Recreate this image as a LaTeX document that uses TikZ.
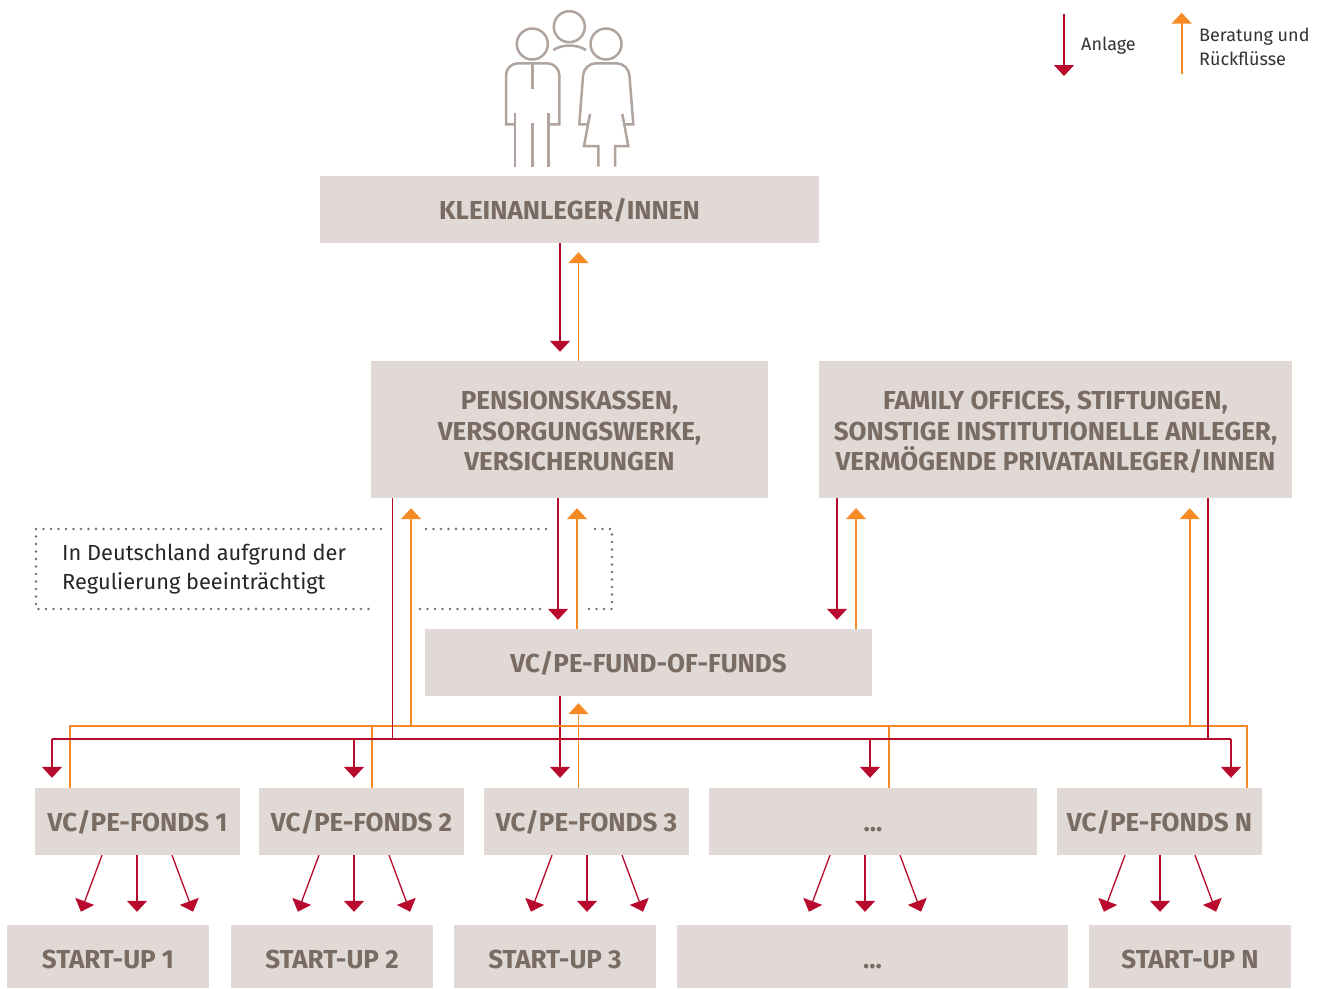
\documentclass[tikz,border=0pt]{standalone}
\usepackage{fontspec}
\setmainfont{Fira Sans}
\usetikzlibrary{arrows.meta}
\definecolor{boxfill}{HTML}{E0D9D6}
\definecolor{boxtext}{HTML}{7A6C62}
\definecolor{anlagered}{HTML}{B70A2D}
\definecolor{rueckorange}{HTML}{F68A24}
\definecolor{iconline}{HTML}{B0A49E}
\tikzset{
  tafel/.style={fill=boxfill,text=boxtext,font=\fontsize{26}{30.5}\selectfont\bfseries,inner sep=0pt,align=center},
  tafelone/.style={tafel,text height=19pt,text depth=0pt},
  startup/.style={tafel,text height=23pt,text depth=0pt,minimum height=63pt},
  anlage/.style={draw=anlagered,line width=1.3pt,-{Triangle[width=20pt,length=11pt]}},
  rueck/.style={draw=rueckorange,line width=1.7pt,-{Triangle[width=20pt,length=11pt]}},
  anlageline/.style={draw=anlagered,line width=1.3pt},
  rueckline/.style={draw=rueckorange,line width=1.7pt},
  icon/.style={draw=iconline,line width=2.5pt,rounded corners=12pt},
  dots/.style={draw=boxtext,line width=2.8pt,line cap=round,dash pattern=on 0pt off 7.5pt},
  legendtext/.style={font=\fontsize{18}{24}\selectfont,text=black!80,align=left,inner sep=0pt}
}
\begin{document}
\begin{tikzpicture}[x=1pt,y=-1pt]
  \useasboundingbox (0,0) rectangle (1327,988);
  % investors icon
  \draw[icon] (569.3,26.7) circle (15.5);
  \draw[icon] (532.3,44) circle (15.5);
  \draw[icon] (606,44) circle (15.5);
  \draw[icon] (553.3,50) .. controls (563,44) and (576,44) .. (586,50);
  \draw[icon] (515,124.3) [rounded corners=0pt] -- (506,124.3) [rounded corners=12pt] -- (506,63.3) -- (559.3,63.3) [rounded corners=0pt] -- (559.3,124.3) -- (548.3,124.3);
  \draw[icon] (515,113) -- (515,166.7);
  \draw[icon] (548.3,113) -- (548.3,166.7);
  \draw[icon] (532.3,123.3) -- (532.3,166.7);
  \draw[icon] (532.3,63.3) -- (532.3,89.3);
  \draw[icon] (588.3,124.3) [rounded corners=0pt] -- (579.3,124.3) [rounded corners=12pt] -- (584,63.3) -- (628.5,63.3) [rounded corners=0pt] -- (633.3,124.3) -- (625,124.3);
  \draw[icon,rounded corners=0pt] (590,114) -- (584,146) -- (598.3,146) -- (598.3,166.7);
  \draw[icon,rounded corners=0pt] (622.3,114) -- (628.3,146) -- (615,146) -- (615,166.7);
  % legend
  \coordinate (legendA) at (1064,14);
  \coordinate (legendB) at (1064,76);
  \coordinate (legendC) at (1181.7,74.3);
  \coordinate (legendD) at (1181.7,12.7);
  \draw[anlage] (legendA) -- (legendB);
  \draw[rueck] (legendC) -- (legendD);
  \node[legendtext,anchor=west] (anlagetext) at (1081,46) {Anlage};
  \node[legendtext,anchor=west] (beratungtext) at (1199,46.5) {Beratung und\\Rückflüsse};
  % boxes
  \node[tafelone,minimum width=499pt,minimum height=67pt] (kleinanleger) at (569.5,209.5) {KLEINANLEGER/INNEN};
  \node[tafel,minimum width=397pt,minimum height=137pt] (pension) at (569.5,429.5) {\rule{0pt}{22pt}PENSIONSKASSEN,\\VERSORGUNGSWERKE,\\VERSICHERUNGEN};
  \node[tafel,minimum width=473pt,minimum height=137pt] (family) at (1055.5,429.5) {\rule{0pt}{24pt}FAMILY OFFICES, STIFTUNGEN,\\SONSTIGE INSTITUTIONELLE ANLEGER,\\VERMÖGENDE PRIVATANLEGER/INNEN};
  \node[tafelone,minimum width=447pt,minimum height=67pt] (fof) at (648.5,662.5) {VC/PE-FUND-OF-FUNDS};
  \node[tafelone,minimum width=205pt,minimum height=67pt] (fonds1) at (137.5,821.5) {VC/PE-FONDS 1};
  \node[tafelone,minimum width=205pt,minimum height=67pt] (fonds2) at (361.5,821.5) {VC/PE-FONDS 2};
  \node[tafelone,minimum width=205pt,minimum height=67pt] (fonds3) at (586.5,821.5) {VC/PE-FONDS 3};
  \node[tafelone,minimum width=328pt,minimum height=67pt] (fonds4) at (873,821.5) {...};
  \node[tafelone,minimum width=205pt,minimum height=67pt] (fondsN) at (1159.5,821.5) {VC/PE-FONDS N};
  \node[startup,minimum width=202pt] (start1) at (108,956.5) {START-UP 1};
  \node[startup,minimum width=202pt] (start2) at (332,956.5) {START-UP 2};
  \node[startup,minimum width=202pt] (start3) at (555,956.5) {START-UP 3};
  \node[startup,minimum width=391pt] (start4) at (872.5,956.5) {...};
  \node[startup,minimum width=202pt] (startN) at (1190,956.5) {START-UP N};
  % dotted note
  \node[anchor=west,inner sep=0pt,align=left,text=black!85,font=\fontsize{21.8}{29}\selectfont] (note) at (62,569) {In Deutschland aufgrund der\\Regulierung beeinträchtigt};
  \draw[dots] (381,529) -- (36,529) -- (36,609) -- (375,609);
  \draw[dots] (426,529) -- (550,529);
  \draw[dots] (420,609) -- (545,609);
  \draw[dots] (595,529) -- (612,529) -- (612,609) -- (588,609);
  % flows between the upper levels
  \draw[anlage,shorten >=9pt] (560,0 |- kleinanleger.south) -- (560,0 |- pension.north);
  \draw[rueck,shorten >=9pt] (578.5,0 |- pension.north) -- (578.5,0 |- kleinanleger.south);
  \draw[anlage,shorten >=9pt] (558,0 |- pension.south) -- (558,0 |- fof.north);
  \draw[rueck,shorten >=10pt] (577,0 |- fof.north) -- (577,0 |- pension.south);
  \draw[anlage,shorten >=9pt] (837,0 |- family.south) -- (837,0 |- fof.north);
  \draw[rueck,shorten >=10pt] (856,0 |- fof.north) -- (856,0 |- family.south);
  \draw[anlage,shorten >=10pt] (560,0 |- fof.south) -- (560,0 |- fonds3.north);
  \draw[rueck,shorten >=7pt] (578.5,0 |- fonds3.north) -- (578.5,0 |- fof.south);
  % orange bus
  \coordinate (rueckbus) at (0,726);
  \draw[rueckline] (70,0 |- fonds1.north) -- (70,0 |- rueckbus) -- (1247,0 |- rueckbus) -- (1247,0 |- fondsN.north);
  \draw[rueckline] (372,0 |- fonds2.north) -- (372,0 |- rueckbus);
  \draw[rueckline] (889,0 |- fonds4.north) -- (889,0 |- rueckbus);
  \draw[rueck,shorten >=10pt] (411,0 |- rueckbus) -- (411,0 |- pension.south);
  \draw[rueck,shorten >=10pt] (1189.7,0 |- rueckbus) -- (1189.7,0 |- family.south);
  % red bus
  \coordinate (anlagebus) at (0,739);
  \draw[anlageline] (392.5,0 |- pension.south) -- (392.5,0 |- anlagebus);
  \draw[anlageline] (1208,0 |- family.south) -- (1208,0 |- anlagebus);
  \draw[anlage,shorten >=10pt] (52,0 |- anlagebus) -- (52,0 |- fonds1.north);
  \draw[anlageline] (52,0 |- anlagebus) -- (1231,0 |- anlagebus);
  \draw[anlage,shorten >=10pt] (354,0 |- anlagebus) -- (354,0 |- fonds2.north);
  \draw[anlage,shorten >=10pt] (870,0 |- anlagebus) -- (870,0 |- fonds4.north);
  \draw[anlage,shorten >=10pt] (1231,0 |- anlagebus) -- (1231,0 |- fondsN.north);
  % funds to start-ups
  \foreach \nm/\st/\cx in {fonds1/start1/137,fonds2/start2/354,fonds3/start3/587,fonds4/start4/865,fondsN/startN/1160} {
    \draw[anlage,shorten >=14pt] (\cx-35,0 |- \nm.south) -- (\cx-61,0 |- \st.north);
    \draw[anlage,shorten >=13pt] (\cx,0 |- \nm.south) -- (\cx,0 |- \st.north);
    \draw[anlage,shorten >=14pt] (\cx+35,0 |- \nm.south) -- (\cx+61,0 |- \st.north);
  }
\end{tikzpicture}
\end{document}
